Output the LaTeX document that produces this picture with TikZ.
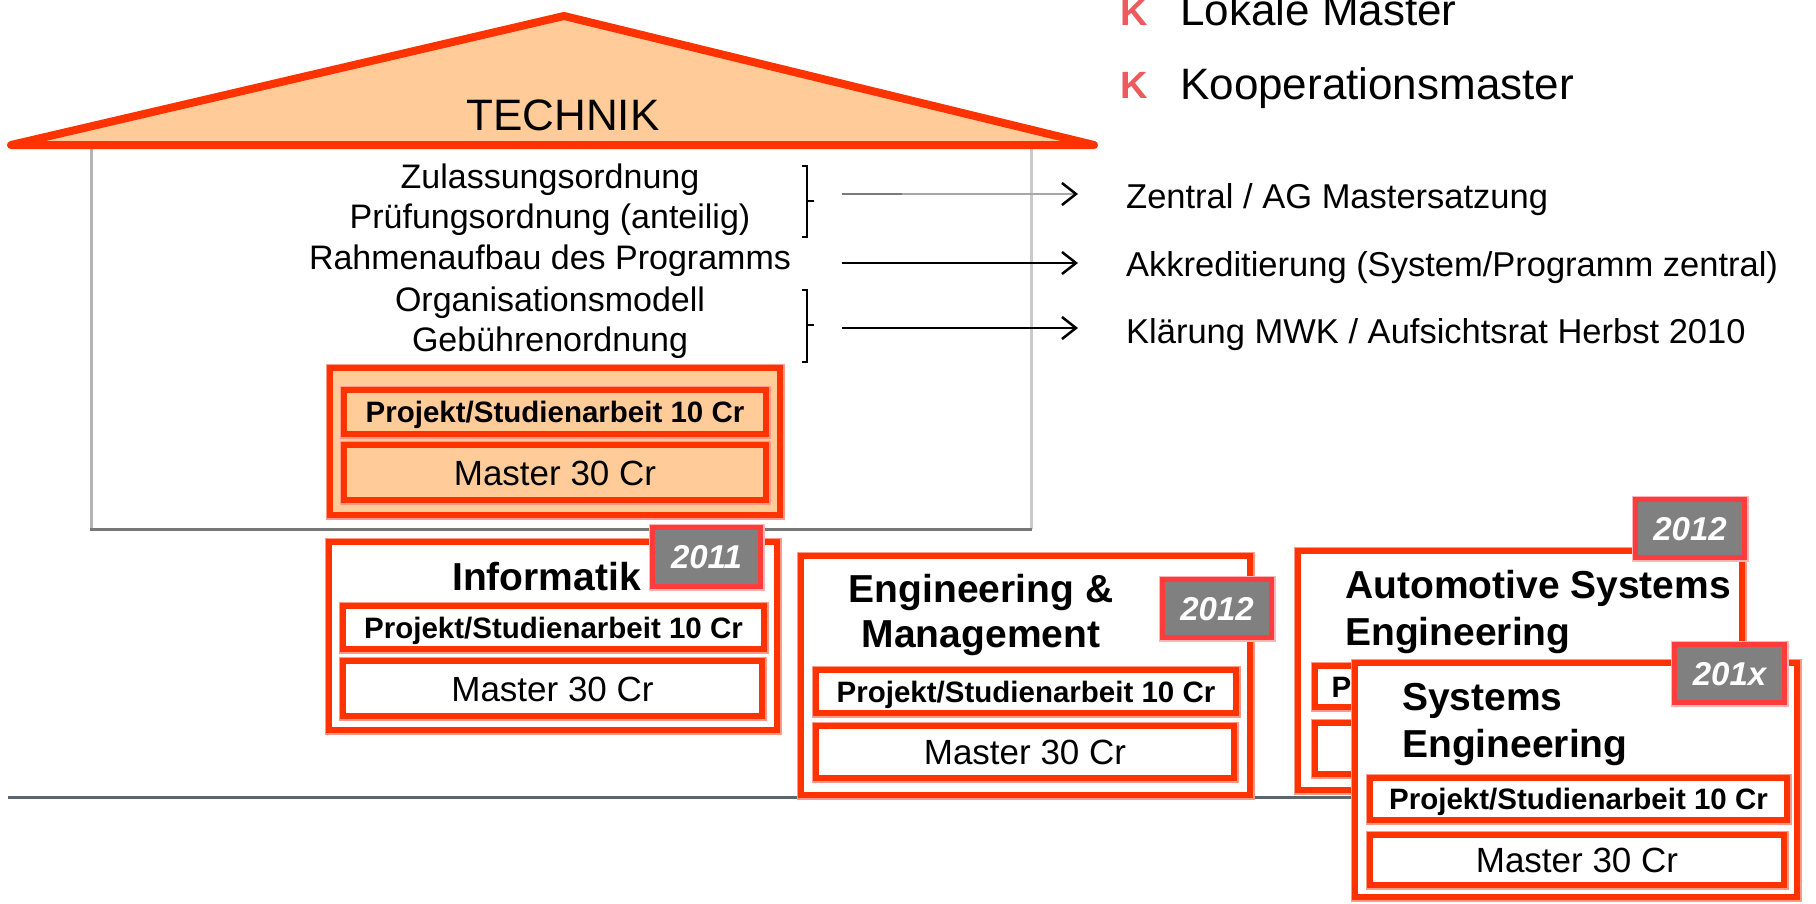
\documentclass[tikz,border=0pt]{standalone}
\usepackage{fontspec}
\setmainfont{Liberation Sans}
\usetikzlibrary{arrows.meta}
\definecolor{rd}{HTML}{FF3300}
\definecolor{halo}{HTML}{FF9A8A}
\definecolor{peach}{HTML}{FFCC99}
\definecolor{tagred}{HTML}{FF3C3C}
\definecolor{taghalo}{HTML}{FFB5B5}
\definecolor{taggray}{HTML}{808080}
\definecolor{bulletred}{HTML}{EC5A5E}
\definecolor{rulegray}{HTML}{5B6770}
\definecolor{housegray}{HTML}{B4B4B4}
\definecolor{houselight}{HTML}{CACACA}
\definecolor{housedark}{HTML}{777777}
\definecolor{arrgray}{HTML}{A8A8A8}
\definecolor{arrdark}{HTML}{7A7A7A}
\tikzset{
  redbox/.style={rectangle, draw=rd, line width=6pt, fill=white, inner sep=0pt,
    preaction={draw=halo, line width=9pt}},
  peachbox/.style={redbox, fill=peach},
  projtext/.style={font=\bfseries\fontsize{29.5}{32}\selectfont, text height=21pt, text depth=0pt},
  mastext/.style={font=\fontsize{35}{40}\selectfont, text height=25pt, text depth=0pt},
  tagbox/.style={rectangle, draw=tagred, line width=5pt, fill=taggray, inner sep=0pt,
    preaction={draw=taghalo, line width=8pt},
    text=white, font=\bfseries\itshape\fontsize{33}{36}\selectfont, text height=23.6pt, text depth=0pt},
  heading/.style={font=\bfseries\fontsize{39}{45}\selectfont, inner sep=0pt},
  bodytext/.style={font=\fontsize{34}{40}\selectfont, inner sep=0pt, anchor=base},
  righttext/.style={font=\fontsize{34.5}{40}\selectfont, inner sep=0pt, anchor=base west},
  bigtext/.style={font=\fontsize{44}{50}\selectfont, inner sep=0pt, anchor=base west},
  bulletk/.style={font=\bfseries\fontsize{38}{44}\selectfont, text=bulletred, inner sep=0pt, anchor=base west},
  brk/.style={draw=black, line width=2.5pt},
  arr/.style={-{Straight Barb[length=14pt,width=22pt,color=black]}, line width=2.5pt},
}
\begin{document}
\begin{tikzpicture}[x=1pt,y=-1pt]
\useasboundingbox (0,0) rectangle (1816,903);
\clip (0,0) rectangle (1816,903);
\fill[white] (0,0) rectangle (1816,903);

% house body
\draw[draw=housegray, line width=3pt] (91,147) -- (91,529);
\draw[draw=houselight, line width=3pt] (1031,147) -- (1031,529);
\draw[draw=housedark, line width=3pt] (90,529) -- (1032,529);

% roof
\filldraw[fill=peach, draw=rd, line width=8pt, line join=round] (11,145) -- (564,16) -- (1094,145) -- cycle;
\node[font=\fontsize{44}{50}\selectfont, inner sep=0pt, anchor=base] (technik) at (563,130) {TECHNIK};

% house inner boxes
\node[peachbox, minimum width=450pt, minimum height=147pt] (hbox) at (555,441.5) {};
\node[peachbox, minimum width=422pt, minimum height=44pt, projtext] (hproj) at (555,412) {Projekt/Studienarbeit 10 Cr};
\node[peachbox, minimum width=422pt, minimum height=55pt, mastext] (hmas) at (555,472.5) {Master 30 Cr};

% left text lines
\node[bodytext] (z1) at (550,188) {Zulassungsordnung};
\node[bodytext] (z2) at (550,228) {Prüfungsordnung (anteilig)};
\node[bodytext] (z3) at (550,269) {Rahmenaufbau des Programms};
\node[bodytext] (z4) at (550,311) {Organisationsmodell};
\node[bodytext] (z5) at (550,351) {Gebührenordnung};

% brackets
\draw[brk] (802,166) -- (807,166) -- (807,237) -- (802,237);
\draw[brk] (807,201) -- (814,201);
\draw[brk] (802,290) -- (807,290) -- (807,362) -- (802,362);
\draw[brk] (807,325) -- (814,325);

% right texts
\node[righttext] (r1) at (1126,208) {Zentral / AG Mastersatzung};
\node[righttext] (r2) at (1126,276) {Akkreditierung (System/Programm zentral)};
\node[righttext] (r3) at (1126,343) {Klärung MWK / Aufsichtsrat Herbst 2010};

% arrows
\coordinate (a1s) at (842,194); \coordinate (a1m) at (902,194); \coordinate (a1e) at (1078,194);
\coordinate (a2s) at (842,263); \coordinate (a2e) at (1078,263);
\coordinate (a3s) at (842,328); \coordinate (a3e) at (1078,328);
\draw[arr, draw=arrgray] (a1s) -- (a1e);
\draw[draw=arrdark, line width=2.5pt] (a1s) -- (a1m);
\draw[arr] (a2s) -- (a2e);
\draw[arr] (a3s) -- (a3e);

% legend
\node[bulletk] (b1) at (1120,25) {K};
\node[bigtext] (l1) at (1180,25) {Lokale Master};
\node[bulletk] (b2) at (1120,98) {K};
\node[bigtext] (l2) at (1180,99) {Kooperationsmaster};

% base rule
\draw[draw=rulegray, line width=3pt] (8,797) -- (1400,797);

% Informatik
\node[redbox, minimum width=448pt, minimum height=188pt] (inf) at (553,636) {};
\node[heading, anchor=base west] (infh) at (452,590) {Informatik};
\node[redbox, minimum width=421pt, minimum height=43pt, projtext] (infp) at (553.5,627.5) {Projekt/Studienarbeit 10 Cr};
\node[redbox, minimum width=419pt, minimum height=55pt, mastext] (infm) at (552.5,688.5) {Master 30 Cr};
\node[tagbox, minimum width=108pt, minimum height=59pt] (inft) at (706.5,557) {2011};

% Engineering & Management
\node[redbox, minimum width=449pt, minimum height=239pt] (em) at (1025.5,675.5) {};
\node[heading, anchor=base] (emh1) at (981,602) {Engineering \&};
\node[heading, anchor=base] (emh2) at (981,647) {Management};
\node[tagbox, minimum width=109pt, minimum height=58pt] (emt) at (1217,608.5) {2012};
\node[redbox, minimum width=420pt, minimum height=43pt, projtext] (emp) at (1026,691.5) {Projekt/Studienarbeit 10 Cr};
\node[redbox, minimum width=418pt, minimum height=52pt, mastext] (emm) at (1025,752) {Master 30 Cr};

% Automotive Systems Engineering
\node[redbox, minimum width=444pt, minimum height=239pt] (au) at (1520,670.5) {};
\node[heading, anchor=base west] (auh1) at (1345,598) {Automotive Systems};
\node[heading, anchor=base west] (auh2) at (1345,645) {Engineering};
\node[redbox, minimum width=412pt, minimum height=41pt, projtext] (aup) at (1521,686.5) {Projekt/Studienarbeit 10 Cr};
\node[redbox, minimum width=412pt, minimum height=51pt, mastext] (aum) at (1521,748.5) {Master 30 Cr};
\node[tagbox, minimum width=109pt, minimum height=58pt] (aut) at (1690,528.5) {2012};

% Systems Engineering
\node[redbox, minimum width=442pt, minimum height=234pt] (se) at (1576,780) {};
\node[heading, anchor=base west] (seh1) at (1402,710) {Systems};
\node[heading, anchor=base west] (seh2) at (1402,757) {Engineering};
\node[redbox, minimum width=417pt, minimum height=42pt, projtext] (sep) at (1578.5,799) {Projekt/Studienarbeit 10 Cr};
\node[redbox, minimum width=414pt, minimum height=50pt, mastext] (sem) at (1577,860) {Master 30 Cr};
\node[tagbox, minimum width=110pt, minimum height=58pt] (set) at (1729.5,673.5) {201x};
\end{tikzpicture}
\end{document}
